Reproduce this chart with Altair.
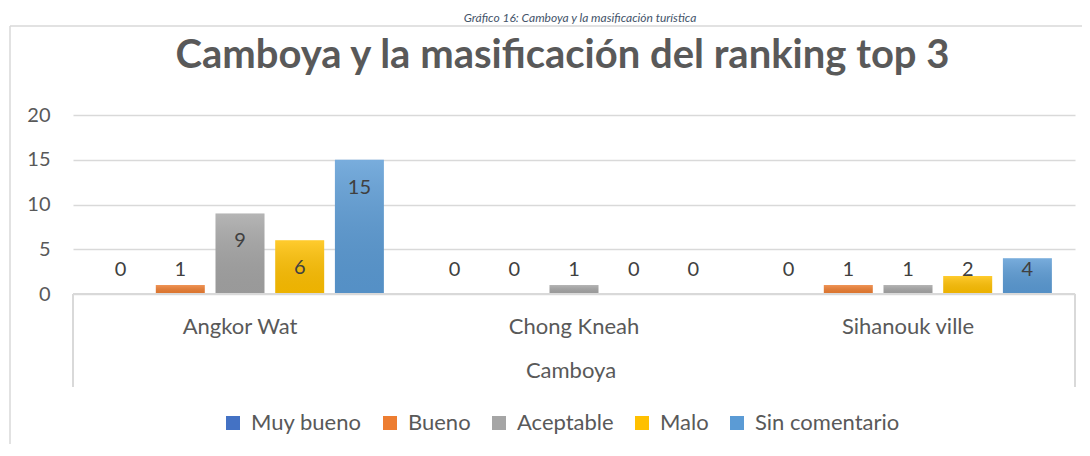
import altair as alt
import pandas as pd

# ---------------- data ----------------
categories = ["Angkor Wat", "Chong Kneah", "Sihanouk ville"]
series = ["Muy bueno", "Bueno", "Aceptable", "Malo", "Sin comentario"]
values_angkor = [0, 1, 9, 6, 15]
values_chong = [0, 0, 1, 0, 0]
values_sihanouk = [0, 1, 1, 2, 4]
colors = ["#4472C4", "#ED7D31", "#A5A5A5", "#FFC000", "#5B9BD5"]
y_ticks = [0, 5, 10, 15, 20]
title_text = "Camboya y la masificación del ranking top 3"
caption_text = "Gráfico 16: Camboya y la masificación turística"
group_label = "Camboya"

rows = []
for cat, vals in zip(categories, [values_angkor, values_chong, values_sihanouk]):
    for s, v in zip(series, vals):
        rows.append({"lugar": cat, "serie": s, "valor": v})
df = pd.DataFrame(rows)

# ---------------- layout ----------------
W, H = 1002, 179
PL, PT, PR, PB = 65, 107, 7, 150
FONT = "Lato"
GRID = "#D9D9D9"
TXT = "#595959"
PX_PER_UNIT = H / 20.0

x_enc = alt.X(
    "lugar:N", sort=categories,
    scale=alt.Scale(paddingInner=0, paddingOuter=0),
    axis=alt.Axis(title=None, labelAngle=0, ticks=False, domain=False, grid=False,
                  labelPadding=32, labelBaseline="middle", labelFontSize=22,
                  labelColor=TXT, labelFont=FONT),
)
xo_enc = alt.XOffset("serie:N", sort=series,
                     scale=alt.Scale(paddingInner=0.18, paddingOuter=0.3875))
y_scale = alt.Scale(domain=[0, 20], nice=False)

base = alt.Chart(df)

bars = base.mark_bar().encode(
    x=x_enc,
    xOffset=xo_enc,
    y=alt.Y("valor:Q", scale=y_scale,
            axis=alt.Axis(values=y_ticks, title=None, ticks=False, domain=False,
                          grid=True, gridColor=GRID, gridWidth=1.5, labelPadding=23,
                          labelFontSize=20, labelColor=TXT, labelFont=FONT)),
    color=alt.Color("serie:N", sort=series,
                    scale=alt.Scale(domain=series, range=colors),
                    legend=alt.Legend(orient="none", legendX=149, legendY=297,
                                      direction="horizontal", title=None,
                                      symbolType="square", symbolSize=196,
                                      symbolStrokeWidth=0, symbolOpacity=1,
                                      labelFontSize=22, labelFont=FONT,
                                      labelColor=TXT, labelOffset=7,
                                      columnPadding=17, padding=0)),
)

shade = base.mark_bar(
    color=alt.Gradient(
        gradient="linear", x1=0, y1=0, x2=0, y2=1,
        stops=[alt.GradientStop(offset=0, color="rgba(255,255,255,0.18)"),
               alt.GradientStop(offset=1, color="rgba(0,0,0,0.07)")],
    )
).encode(x=alt.X("lugar:N", sort=categories), xOffset=alt.XOffset("serie:N", sort=series),
         y=alt.Y("valor:Q", scale=y_scale))

labels = base.transform_calculate(
    label_y=f"max(datum.valor - 28/{PX_PER_UNIT}, 24/{PX_PER_UNIT})"
).mark_text(font=FONT, fontSize=20, color="#404040", baseline="middle").encode(
    x=alt.X("lugar:N", sort=categories),
    xOffset=alt.XOffset("serie:N", sort=series),
    y=alt.Y("label_y:Q", scale=y_scale),
    text=alt.Text("valor:Q"),
)

line_kw = dict(color=GRID, strokeWidth=2)
axis_bottom = alt.Chart().mark_rule(**line_kw).encode(
    x=alt.value(0), x2=alt.value(W), y=alt.value(H))
axis_left = alt.Chart().mark_rule(**line_kw).encode(
    x=alt.value(0), y=alt.value(H), y2=alt.value(H + 93))
axis_right = alt.Chart().mark_rule(**line_kw).encode(
    x=alt.value(W), y=alt.value(H), y2=alt.value(H + 93))

border_left = alt.Chart().mark_rule(color="#D9D9D9", strokeWidth=1.5).encode(
    x=alt.value(-63), y=alt.value(-89), y2=alt.value(H + PB + 10))
border_top = alt.Chart().mark_rule(color="#D9D9D9", strokeWidth=1.5).encode(
    x=alt.value(-63), x2=alt.value(W + PR + 10), y=alt.value(-89))

title_mark = alt.Chart(pd.DataFrame({"t": [title_text]})).mark_text(
    font=FONT, fontSize=40, fontWeight="bold", color=TXT, baseline="alphabetic", align="center"
).encode(text="t:N", x=alt.value(489.5), y=alt.value(-47))

caption_mark = alt.Chart(pd.DataFrame({"t": [caption_text]})).mark_text(
    font=FONT, fontSize=12, fontStyle="italic", color="#44546A", baseline="alphabetic", align="center"
).encode(text="t:N", x=alt.value(507), y=alt.value(-93))

group_mark = alt.Chart(pd.DataFrame({"t": [group_label]})).mark_text(
    font=FONT, fontSize=22, color=TXT, baseline="middle", align="center"
).encode(text="t:N", x=alt.value(498), y=alt.value(256))

chart = alt.layer(
    border_left, border_top, bars, shade, labels, axis_bottom, axis_left, axis_right,
    title_mark, caption_mark, group_mark,
).properties(
    width=W, height=H,
    padding={"left": PL, "top": PT, "right": PR, "bottom": PB},
    autosize=alt.AutoSizeParams(type="none"),
    background="white",
).configure_view(stroke=None)

chart.save("out.html", embed_options={"renderer": "svg", "actions": False})
